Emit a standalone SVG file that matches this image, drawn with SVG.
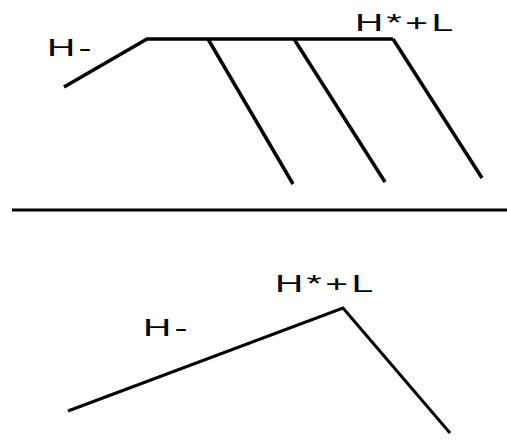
<svg xmlns="http://www.w3.org/2000/svg" width="507" height="448" viewBox="0 0 507 448">
<style>
.ln{fill:none;stroke:#000;stroke-width:3.5;stroke-linejoin:miter;stroke-linecap:butt}
.ln2{fill:none;stroke:#000;stroke-width:3;stroke-linejoin:miter}
.t{font-family:"Liberation Sans",Arial,sans-serif;font-size:23px;fill:#000;letter-spacing:2px}
</style>
<rect width="507" height="448" fill="#fff"/>
<g id="connectors">
<polyline class="ln" points="64,87 147,39 393,39"/>
<line class="ln" x1="208" y1="39" x2="293" y2="184"/>
<line class="ln" x1="294" y1="39" x2="385" y2="182"/>
<line class="ln" x1="393" y1="39" x2="482" y2="178"/>
<line x1="12" y1="210" x2="507" y2="210" stroke="#000" stroke-width="3"/>
<polyline class="ln2" points="68,411 343,308 450,433"/>
</g>
<g id="top-hminus"><text class="t" transform="translate(47,56) scale(1.7,1)">H-</text></g>
<g id="top-hstar"><text class="t" transform="translate(355,31) scale(1.7,1)">H*+L</text></g>
<g id="bot-hminus"><text class="t" transform="translate(143,336) scale(1.7,1)">H-</text></g>
<g id="bot-hstar"><text class="t" transform="translate(275,292) scale(1.7,1)">H*+L</text></g>
</svg>
